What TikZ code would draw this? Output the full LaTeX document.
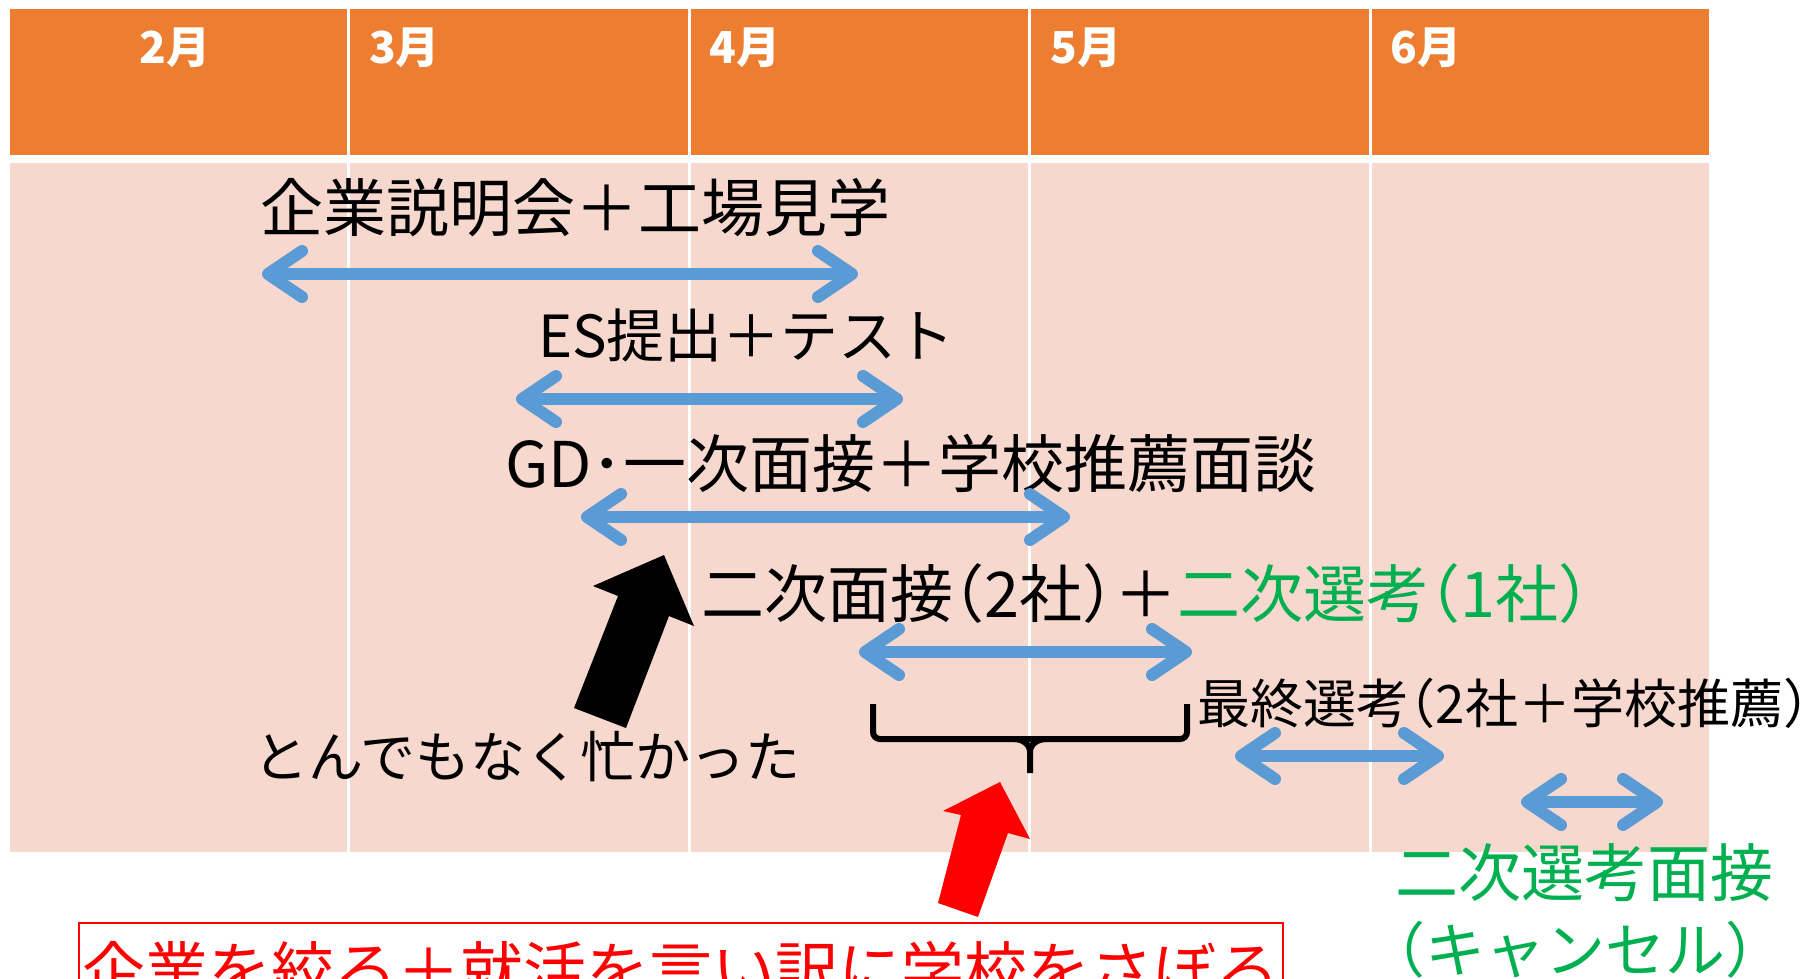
\documentclass[tikz,border=0pt]{standalone}
\usepackage{fontspec}
\setmainfont{Noto Sans CJK JP}
\usetikzlibrary{positioning}
\usetikzlibrary{arrows.meta}

\definecolor{headorange}{RGB}{237,125,49}
\definecolor{bodypink}{RGB}{247,216,206}
\definecolor{spanblue}{RGB}{91,155,213}
\definecolor{notegreen}{RGB}{0,176,80}

\newcommand{\Lpar}{\makebox[0.5em][r]{（}}
\newcommand{\Rpar}{\makebox[0.5em][l]{）}}
\newcommand{\pxfont}[1]{\fontsize{#1}{#1}\selectfont}

\begin{document}
\begin{tikzpicture}[x=1pt, y=-1pt,
		month/.style={text=white, font=\pxfont{44}\bfseries, inner sep=0pt},
		jp/.style={font=\pxfont{63}, inner sep=0pt, anchor=west},
		span/.style={draw=spanblue, line width=12pt, <->, >={Straight Barb[length=34pt, width=46pt, round]}}]
		\useasboundingbox (0,0) rectangle (1805,979);
		\clip (0,0) rectangle (1805,979);
		\fill[headorange] (10,9) rectangle (1709,155);
		\fill[bodypink] (10,163) rectangle (1709,852);
		\foreach \x in {348,689,1029,1370}
			\draw[white, line width=3pt] (\x,9) -- (\x,852);
		\node[month] (Feb) at (175,48) {2月};
		\node[month, anchor=west] (Mar) at (369,48) {3月};
		\node[month, anchor=west] (Apr) at (709,48) {4月};
		\node[month, anchor=west] (May) at (1050,48) {5月};
		\node[month, anchor=west] (Jun) at (1390,48) {6月};

		\node[jp] (CompanyInfo) at (260,208) {企業説明会＋工場見学};
		\node[jp, font=\pxfont{58}] (EsTest) at (538,335) {ES提出＋テスト};
		\node[jp] (FirstInterview) at (505,463) {GD･一次面接＋学校推薦面談};
		\node[jp] (SecondInterview) at (701,594) {二次面接\Lpar 2社\Rpar ＋{\color{notegreen}二次選考\Lpar 1社\Rpar}};
		\node[jp, font=\pxfont{53}] (FinalRound) at (1197,703) {最終選考\Lpar 2社＋学校推薦\Rpar};
		\node[jp, text=notegreen] (SecondSelect) at (1395,873) {二次選考面接};
		\node[jp, text=notegreen, font=\pxfont{60}] (Cancelled) at (1395,950) {\Lpar キャンセル\Rpar};
		\node[jp, font=\pxfont{55}] (SoBusy) at (253,757) {とんでもなく忙かった};
		\node[draw=red, fill=white, line width=2pt, text=red, font=\pxfont{63}, minimum width=1197pt, inner ysep=18pt, anchor=north west] (SkipSchool) at (78,922) {企業を絞る＋就活を言い訳に学校をさぼる};

		\coordinate (CompanyInfoS) at (262,274);
		\coordinate (CompanyInfoE) at (858,274);
		\coordinate (EsTestS) at (516,399);
		\coordinate (EsTestE) at (903,399);
		\coordinate (FirstS) at (581,517);
		\coordinate (FirstE) at (1070,517);
		\coordinate (SecondS) at (859,652);
		\coordinate (SecondE) at (1192,652);
		\coordinate (FinalS) at (1235,756);
		\coordinate (FinalE) at (1444,756);
		\coordinate (SelectS) at (1521,802);
		\coordinate (SelectE) at (1663,802);
		\draw[span] (CompanyInfoS) -- (CompanyInfoE);
		\draw[span] (EsTestS) -- (EsTestE);
		\draw[span] (FirstS) -- (FirstE);
		\draw[span] (SecondS) -- (SecondE);
		\draw[span] (FinalS) -- (FinalE);
		\draw[span] (SelectS) -- (SelectE);

		\draw[line width=6pt, rounded corners=7pt] (873,704) -- (873,739) -- (1187,739) -- (1187,704);
		\draw[line width=6pt] (1014,739) to[out=0, in=90] (1030,752) -- (1030,773);
		\draw[line width=6pt] (1046,739) to[out=180, in=90] (1030,752);

		\fill[black] (574,708) -- (618,596) -- (593,586) -- (664,555) -- (694,626) -- (669,616) -- (626,728) -- cycle;
		\fill[red] (938,903) -- (961,815) -- (943,811) -- (1000,782) -- (1030,839) -- (1008,833) -- (978,917) -- cycle;
	\end{tikzpicture}
\end{document}
